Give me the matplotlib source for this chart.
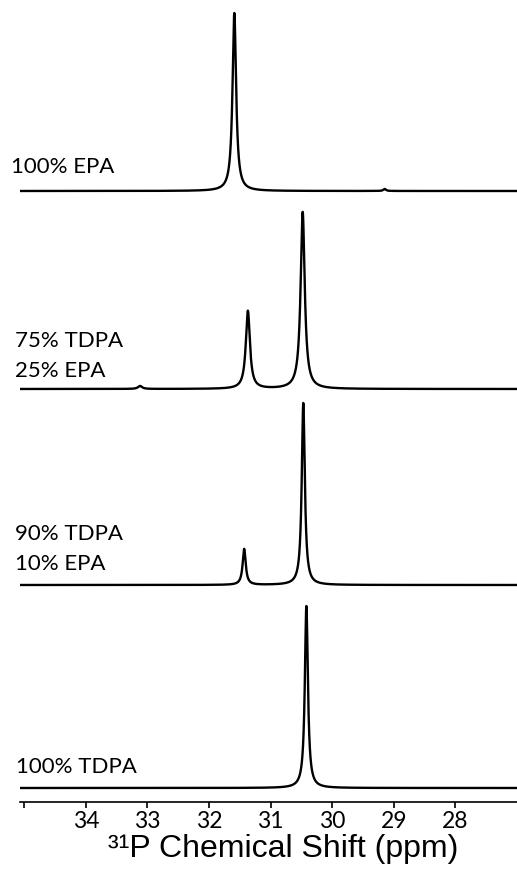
import numpy as np
import matplotlib
matplotlib.use('Agg')
import matplotlib.pyplot as plt

plt.rcParams['font.family'] = 'Lato'

# sample label lines (text, y position in figure pixels from top)
label_text = ['100% EPA', '75% TDPA', '25% EPA', '90% TDPA', '10% EPA', '100% TDPA']
label_y = [167, 341, 371, 534, 564, 767]
label_x = [11, 15, 15, 15, 15, 16]

# peak lists per spectrum: position (ppm), height, FWHM (ppm)
peak_pos = [[31.59, 29.15],
            [31.37, 30.48, 33.12],
            [31.43, 30.47],
            [30.42]]
peak_height = [[178, 2],
               [78, 177, 3],
               [36, 182],
               [182]]
peak_width = [[0.07, 0.05],
              [0.08, 0.08, 0.08],
              [0.06, 0.06],
              [0.06]]

# vertical offsets of the stacked spectra
offsets = [611, 413, 217, 14]

ticks = [35, 34, 33, 32, 31, 30, 29, 28]
tick_labels = ['', '34', '33', '32', '31', '30', '29', '28']

W, H = 517, 870
fig = plt.figure(figsize=(W / 100, H / 100), dpi=100)
ax = fig.add_axes([20 / W, (H - 803) / H, 1 - 20 / W, 803 / H])

ppm = np.linspace(35.1, 26.9, 12000)
for pos, hts, wds, off in zip(peak_pos, peak_height, peak_width, offsets):
    spec = np.zeros_like(ppm)
    for p, h, w in zip(pos, hts, wds):
        g = w / 2
        spec += h * g ** 2 / ((ppm - p) ** 2 + g ** 2)
    ax.plot(ppm, spec + off, color='black', lw=1.7)

ax.set_xlim(35.07, 27.0)
ax.set_ylim(0, 803)
ax.set_xticks(ticks)
ax.set_xticklabels(tick_labels, fontsize=16.5)
ax.tick_params(axis='x', direction='out', length=4, width=1.2, pad=2)
ax.set_yticks([])
for s in ['left', 'top', 'right']:
    ax.spines[s].set_visible(False)
ax.spines['bottom'].set_linewidth(1.2)

fig.text(283 / W, 1 - 849 / H, '³¹P Chemical Shift (ppm)', fontsize=23,
         family='Liberation Sans', ha='center', va='center')

for lab, lx, ly in zip(label_text, label_x, label_y):
    fig.text(lx / W, 1 - ly / H, lab, fontsize=16, va='center', ha='left')

fig.savefig('out.png', dpi=100)
